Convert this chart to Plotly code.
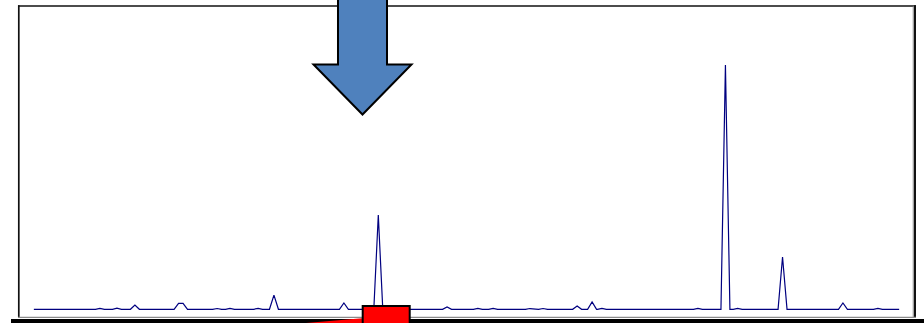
import plotly.graph_objects as go

# Chromatogram: retention time (min) of each peak apex and its relative intensity
peak_times = [2.74, 3.31, 3.91, 5.37, 5.52, 6.66, 7.09, 8.03, 8.56, 10.90,
              12.05, 14.35, 15.38, 15.89, 17.12, 17.56, 18.70, 19.20, 19.53,
              22.74, 23.66, 24.07, 25.57, 27.59, 28.76]
peak_heights = [0.3, 0.35, 1.4, 1.95, 1.95, 0.25, 0.3, 0.3, 4.6, 2.05,
                30.6, 0.75, 0.3, 0.3, 0.25, 0.25, 1.05, 2.4, 0.3,
                0.3, 79.3, 0.3, 17.0, 2.05, 0.3]
run_start, run_end = 0.53, 29.47   # acquisition window (min)
scan_step = 0.15                    # spacing between scans (min)

# Assemble the trace: baseline with triangular peaks one scan wide on each side
pts = {round(run_start, 3): 0.0, round(run_end, 3): 0.0}
for t, h in zip(peak_times, peak_heights):
    for dt, v in ((-scan_step, 0.0), (0.0, h), (scan_step, 0.0)):
        k = round(t + dt, 3)
        pts[k] = max(pts.get(k, 0.0), v)
xs = sorted(pts)
ys = [pts[k] for k in xs]

W, H = 924, 323
ML, MR, MT, MB = 18, 9, 6, 6
PW, PH = W - ML - MR, H - MT - MB


def fx(x):
    return (x - ML) / PW


def fy(y):
    return (H - MB - y) / PH


def path(points):
    return "M " + " L ".join(f"{fx(x):.5f},{fy(y):.5f}" for x, y in points) + " Z"


fig = go.Figure()
fig.add_trace(go.Scatter(x=xs, y=ys, mode="lines",
                         line=dict(color="#000080", width=1.2),
                         hoverinfo="skip", showlegend=False))

shapes = []
# frame around the trace
shapes.append(dict(type="line", xref="paper", yref="paper",
                   x0=fx(18.8), x1=fx(18.8), y0=fy(5.2), y1=fy(317.5),
                   line=dict(color="#111111", width=1.7)))
shapes.append(dict(type="line", xref="paper", yref="paper",
                   x0=fx(18), x1=fx(916), y0=fy(6), y1=fy(6),
                   line=dict(color="#111111", width=1.5)))
shapes.append(dict(type="line", xref="paper", yref="paper",
                   x0=fx(913.3), x1=fx(913.3), y0=fy(6.5), y1=fy(317),
                   line=dict(color="#9a9a9a", width=1.2)))
shapes.append(dict(type="line", xref="paper", yref="paper",
                   x0=fx(915), x1=fx(915), y0=fy(5.2), y1=fy(317.5),
                   line=dict(color="#111111", width=2)))
shapes.append(dict(type="line", xref="paper", yref="paper",
                   x0=fx(18), x1=fx(916), y0=fy(317.3), y1=fy(317.3),
                   line=dict(color="#8a8a8a", width=1.2)))
# heavy base bar
shapes.append(dict(type="rect", xref="paper", yref="paper",
                   x0=fx(11), x1=fx(926), y0=fy(319), y1=fy(326),
                   fillcolor="#000000", line=dict(width=0), layer="above"))
# red wedge along the base
shapes.append(dict(type="path", xref="paper", yref="paper",
                   path=path([(300, 323.5), (362, 318.3), (362, 324)]),
                   fillcolor="#ff0000", line=dict(width=0), layer="above"))
# red marker box
shapes.append(dict(type="rect", xref="paper", yref="paper",
                   x0=fx(362.7), x1=fx(409.7), y0=fy(306), y1=fy(330),
                   fillcolor="#ff0000", line=dict(color="#000000", width=2),
                   layer="above"))
# blue pointer arrow
shapes.append(dict(type="path", xref="paper", yref="paper",
                   path=path([(338, -6), (387, -6), (387, 64.5), (411.5, 64.5),
                              (362.5, 114.5), (313.5, 64.5), (338, 64.5)]),
                   fillcolor="#4f81bd", line=dict(color="#000000", width=2),
                   layer="above"))

fig.update_layout(
    width=W, height=H,
    margin=dict(l=ML, r=MR, t=MT, b=MB, pad=0),
    paper_bgcolor="white", plot_bgcolor="white",
    xaxis=dict(range=[(ML - ML) / 29.9, PW / 29.9], visible=False, fixedrange=True),
    yaxis=dict(range=[-2.5, 98.5], visible=False, fixedrange=True),
    shapes=shapes,
    showlegend=False,
)

fig.write_html("out.html")
